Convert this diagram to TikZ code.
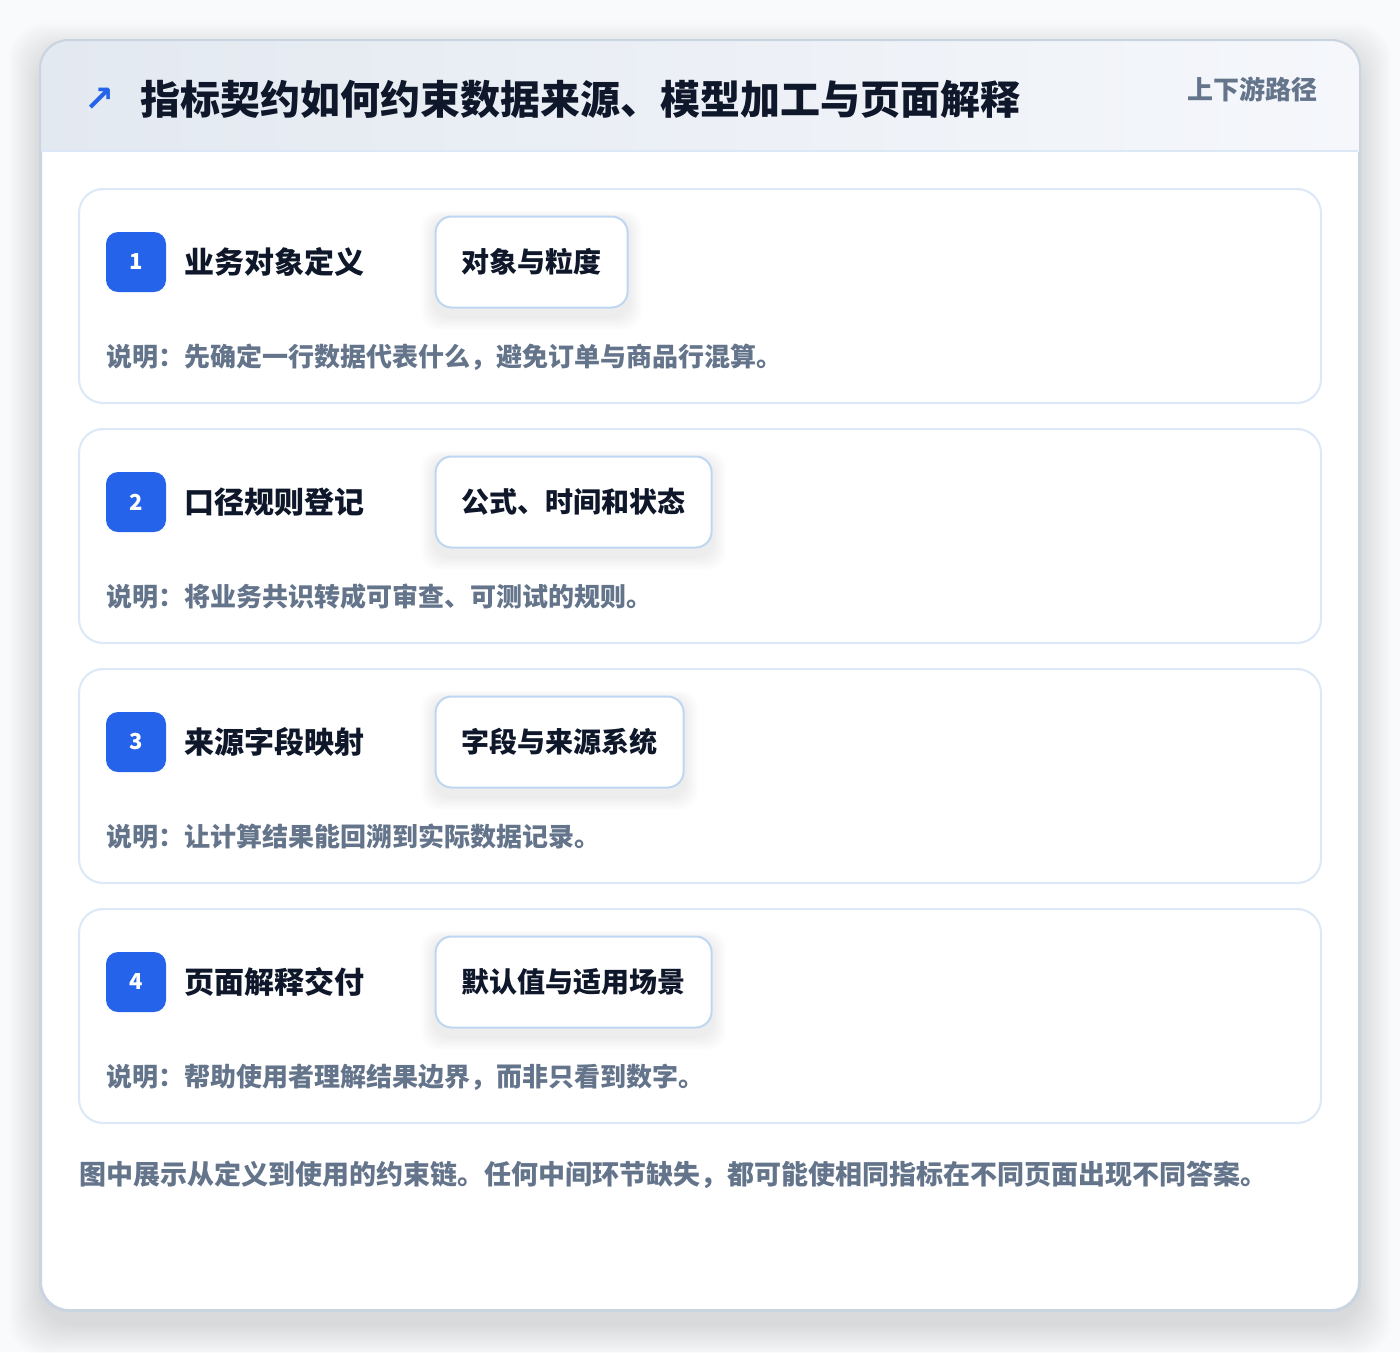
\documentclass[tikz,border=0pt]{standalone}
\usepackage{fontspec}
\setmainfont{Noto Sans CJK SC}[BoldFont={Noto Sans CJK SC Black}]
\newfontfamily\symfont{DejaVu Sans}
\usetikzlibrary{positioning}
\definecolor{ink}{HTML}{0F172A}
\definecolor{muted}{HTML}{64748B}
\definecolor{accent}{HTML}{2563EB}
\definecolor{cardline}{HTML}{DCE8F8}
\definecolor{tagline}{HTML}{BFD6F2}
\definecolor{frame}{HTML}{CBD5E1}
\definecolor{headl}{HTML}{E3E9F1}
\definecolor{headr}{HTML}{F5F7FB}
\definecolor{page}{HTML}{F9FAFB}
\begin{document}
\begin{tikzpicture}[x=1pt,y=-1pt,
  stepcard/.style={draw=cardline,line width=2pt,fill=white,rounded corners=24pt,
    minimum width=1242pt,minimum height=214pt,inner sep=0pt},
  badge/.style={fill=accent,rounded corners=12pt,minimum size=60pt,inner sep=0pt,
    text=white,font=\fontsize{22}{26}\selectfont\bfseries},
  steptitle/.style={inner sep=0pt,text=ink,font=\fontsize{30}{36}\selectfont\bfseries},
  tagbox/.style={draw=tagline,line width=2pt,fill=white,rounded corners=16pt,
    minimum height=91pt,inner xsep=26pt,text=ink,font=\fontsize{28}{34}\selectfont\bfseries},
  tagspot/.style={tagbox,draw=none,fill=none,text opacity=0},
  note/.style={anchor=west,inner sep=0pt,text=muted,font=\fontsize{26}{32}\selectfont\bfseries},
]
\fill[page] (0,0) rectangle (1400,1352);
\useasboundingbox (0,0) rectangle (1400,1352);
% soft shadow of the panel
\foreach \s in {1,...,16}
  \fill[black,opacity=.006,rounded corners=36pt] (41-2*\s,55-2*\s) rectangle (1359+2*\s,1324+2*\s);
\node[draw=frame,line width=2pt,fill=white,rounded corners=28pt,
  minimum width=1318pt,minimum height=1269pt,inner sep=0pt] (panel) at (700,675.5) {};
\begin{scope}
  \clip[rounded corners=28pt] (41,41) rectangle (1359,1310);
  \shade[left color=headl,right color=headr] (41,41) rectangle (1359,151);
\end{scope}
\draw[frame,line width=2pt,rounded corners=28pt] (panel.north west) rectangle (panel.south east);
\draw[cardline,line width=2pt] (42,151) -- (1358,151);
% header
\node[text=accent,font=\symfont\fontsize{36}{40}\selectfont\bfseries] (icon) at (100,100) {↗};
\node[anchor=west,inner sep=0pt,text=ink,font=\fontsize{40}{48}\selectfont\bfseries] (title) at (140,99)
  {指标契约如何约束数据来源、模型加工与页面解释};
\node[anchor=east,inner sep=0pt,text=muted,font=\fontsize{26}{30}\selectfont\bfseries] (pathlabel) at (1318,89)
  {上下游路径};
% the four steps
\foreach \i/\name/\tag/\txt in {
  1/业务对象定义/对象与粒度/说明：先确定一行数据代表什么，避免订单与商品行混算。,
  2/口径规则登记/公式、时间和状态/说明：将业务共识转成可审查、可测试的规则。,
  3/来源字段映射/字段与来源系统/说明：让计算结果能回溯到实际数据记录。,
  4/页面解释交付/默认值与适用场景/说明：帮助使用者理解结果边界，而非只看到数字。}{
  \pgfmathsetmacro\dy{240*(\i-1)}
  \node[stepcard] (card\i) at (700,296+\dy) {};
  \node[badge] (badge\i) at (136,262+\dy) {\i};
  \node[steptitle,right=18pt of badge\i] (name\i) {\name};
  \node[tagspot,right=70pt of name\i] (spot\i) {\tag};
  \foreach \s in {1,...,9}
    \fill[black,opacity=.007,rounded corners=18pt]
      ([shift={(-1.5*\s,4-\s)}]spot\i.north west) rectangle ([shift={(1.5*\s,8+1.5*\s)}]spot\i.south east);
  \node[tagbox] (tag\i) at (spot\i) {\tag};
  \node[note] (note\i) at (106,357+\dy) {\txt};
}
\node[note,font=\fontsize{27}{34}\selectfont\bfseries] (footer) at (79,1175)
  {图中展示从定义到使用的约束链。任何中间环节缺失，都可能使相同指标在不同页面出现不同答案。};
\end{tikzpicture}
\end{document}
